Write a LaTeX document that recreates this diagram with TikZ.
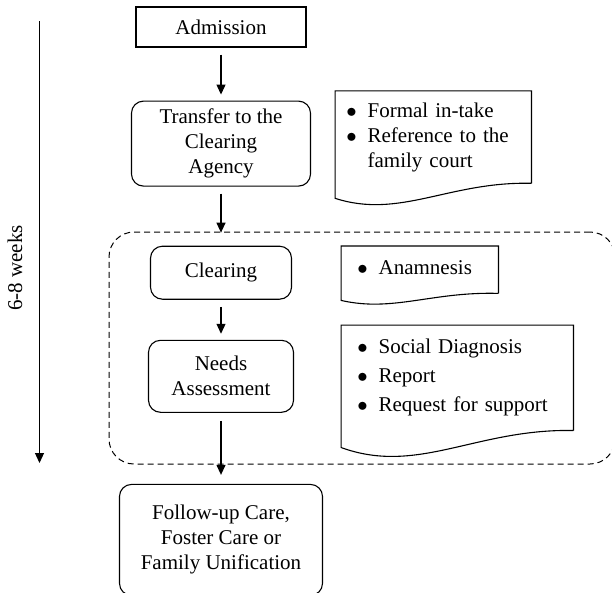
\documentclass[tikz,border=0pt]{standalone}
\usepackage{fontspec}
\setmainfont{Liberation Serif}
\usetikzlibrary{positioning,calc,arrows.meta}
\tikzset{sbox/.style={rectangle,draw,line width=1.1pt,align=center,inner sep=2pt},
	 rbox/.style={sbox,rounded corners=12pt},
	 docbox/.style={rectangle,align=left,inner ysep=0pt},
	 phasebox/.style={rectangle,draw,line width=1pt,dash pattern=on 6pt off 4pt,rounded corners=25pt},
	 flow/.style={line width=1.2pt,-{Triangle[length=10pt,width=9pt]},shorten <=7pt,shorten >=6pt},
	 node distance = 53pt
	 }
% document shape: node, drop of lower left corner, dip of the wave
\newcommand{\docframe}[3]{\draw[line width=1.1pt] (#1.south east) -- (#1.north east) -- (#1.north west) -- ([yshift=-#2]#1.south west) .. controls ($(#1.south west)!0.33!(#1.south east)+(0,-#2-#3)$) and ($(#1.south west)!0.58!(#1.south east)+(0,2pt)$) .. (#1.south east);}

\begin{document}
\begin{tikzpicture}[font=\fontsize{21}{25}\selectfont] % clearing process
	\useasboundingbox (0,0) rectangle (612pt,-592pt);
	\node[phasebox,minimum width=506pt,minimum height=232pt] (phase) at (362pt,-348pt) {};
	\node[sbox,minimum width=170pt,minimum height=40pt] (adm) at (221pt,-27pt) {Admission};
	\node[rbox,minimum width=179pt,minimum height=85pt] (trans) [below=53pt of adm] {Transfer to the\\Clearing\\Agency};
	\node[rbox,minimum width=141pt,minimum height=53pt] (clear) [below=59pt of trans] {Clearing};
	\node[rbox,minimum width=145pt,minimum height=72pt] (needs) [below=40pt of clear] {Needs\\Assessment};
	\node[rbox,minimum width=203pt,minimum height=111pt] (care) [below=71pt of needs] {Follow-up Care,\\Foster Care or\\Family Unification};
	\node[docbox,text width=174pt,inner xsep=11pt,minimum height=92pt] (intake) [right=24pt of trans,yshift=6.5pt]
	  {\begin{tabular}{@{}l@{\hspace{11pt}}l@{}}$\bullet$ & Formal in-take\\ $\bullet$ & Reference to the\\ & family court\end{tabular}};
	\node[docbox,text width=125pt,inner xsep=16pt,minimum height=47pt] (anam) [right=49pt of clear,yshift=3pt]
	  {\begin{tabular}{@{}l@{\hspace{11pt}}l@{}}$\bullet$ & Anamnesis\end{tabular}};
	\node[docbox,text width=200pt,inner xsep=16pt,minimum height=105pt] (diag) [right=47pt of needs,yshift=-1.5pt]
	  {\begin{tabular}{@{}l@{\hspace{11pt}}l@{}}$\bullet$ & Social Diagnosis\\[4pt] $\bullet$ & Report\\[4pt] $\bullet$ & Request for support\end{tabular}};
	\docframe{intake}{15pt}{21pt}
	\docframe{anam}{7pt}{12pt}
	\docframe{diag}{17pt}{28pt}
	\draw[flow] (adm) to (trans);
	\draw[flow,shorten >=13pt] (trans) to (clear);
	\draw[flow] (clear) to (needs);
	\draw[flow,shorten <=8pt,shorten >=9pt] (needs) to (care);
	\coordinate (t0) at (39.5pt,-21pt); \coordinate (t1) at (39.5pt,-463pt);
	\draw[flow,shorten <=0pt,shorten >=0pt] (t0) to (t1);
	\node[rotate=90] (weeks) at (15pt,-268pt) {6-8 weeks};
     \end{tikzpicture}
\end{document}
